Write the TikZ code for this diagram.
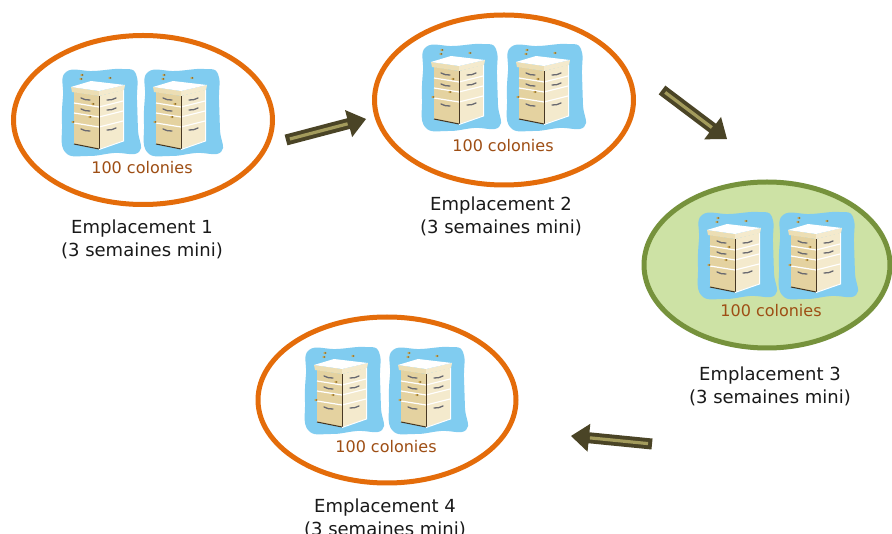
\documentclass[tikz,border=0pt]{standalone}
\usepackage{fontspec}
\setmainfont{DejaVu Sans}
\usetikzlibrary{shapes.geometric,calc}
\definecolor{orng}{RGB}{228,108,10}
\definecolor{grnline}{RGB}{118,146,60}
\definecolor{grnfill}{RGB}{205,226,165}
\definecolor{blobc}{RGB}{128,204,240}
\definecolor{hfront}{RGB}{228,210,160}
\definecolor{hright}{RGB}{244,234,205}
\definecolor{lidf}{RGB}{236,222,180}
\definecolor{hdark}{RGB}{70,55,35}
\definecolor{handlec}{RGB}{105,105,112}
\definecolor{beec}{RGB}{200,160,70}
\definecolor{arrdark}{RGB}{74,68,38}
\definecolor{arrlight}{RGB}{163,155,92}
\definecolor{coltxt}{RGB}{158,78,20}
\definecolor{labtxt}{RGB}{25,25,25}
\newcommand\fatarrow[2]{%
  \coordinate (#1h) at ($(#2)!18pt!(#1)$);
  \fill[arrdark] ($(#1)!5.5pt!90:(#2)$) -- ($(#1h)!5.5pt!-90:(#1)$) -- ($(#1h)!14pt!-90:(#1)$) -- (#2)
     -- ($(#1h)!14pt!90:(#1)$) -- ($(#1h)!5.5pt!90:(#1)$) -- ($(#1)!5.5pt!-90:(#2)$) -- cycle;
  \draw[arrlight, line width=3.2pt] ($(#1)!4pt!(#2)$) -- ($(#1h)!1pt!(#1)$);
}
\tikzset{
  site/.style={ellipse, draw=orng, line width=5pt, inner sep=0pt, fill=white},
  greensite/.style={ellipse, draw=grnline, line width=5pt, inner sep=0pt, fill=grnfill},
  coltext/.style={font=\fontsize{16}{19}\selectfont, text=coltxt, inner sep=0pt},
  labtext/.style={font=\fontsize{18}{23}\selectfont, text=labtxt, align=center, inner sep=0pt},
  hndl/.style={handlec, line width=1.3pt, line cap=round},
  hive/.pic={
    \fill[blobc] plot[smooth cycle,tension=0.75] coordinates {(-34,-40) (-6,-41) (22,-43) (36,-38) (37,-12) (38,18) (39,40) (14,41) (-12,44) (-35,40) (-38,12) (-37,-16)};
    \fill[hfront] (-26,-20) -- (-1,-16) -- (-1,37) -- (-26,32) -- cycle;
    \fill[hright] (-1,-16) -- (23,-22) -- (23,29) -- (-1,37) -- cycle;
    \draw[white, line width=1.2pt] (-26,-9) -- (-1,-5) -- (23,-11) (-26,1) -- (-1,5) -- (23,-1) (-26,11) -- (-1,15) -- (23,9);
    \draw[hdark, line width=1pt] (-26,32) -- (-1,37);
    \draw[hdark, line width=0.8pt] (-1,-16) -- (-1,37);
    \draw[white, line width=1pt] (-1,37.5) -- (23.5,29) -- (23.5,-22);
    \fill[lidf] (-29,-25) -- (-1,-21) -- (-1,-16) -- (-28,-20) -- cycle;
    \fill[hright] (-1,-21) -- (25,-27) -- (24,-22) -- (-1,-16) -- cycle;
    \fill[white] (-29,-25) -- (-9,-31) -- (25,-27) -- (-1,-21) -- cycle;
    \draw[hndl] (-19,-14) to[bend right=15] (-10,-12);
    \draw[hndl] (-19,-3) to[bend right=15] (-10,-1);
    \draw[hndl] (-19,17) to[bend right=15] (-10,19);
    \draw[hndl] (7,-12) to[bend right=15] (16,-14);
    \draw[hndl] (7,-2) to[bend right=15] (16,-4);
    \draw[hndl] (7,18) to[bend right=15] (16,16);
    \foreach \bx/\by in {-18/-37,-19/-33,10/-34,-27/10,-7/-8,-10/5}{
      \fill[beec] (\bx,\by) ellipse (1.8 and 1.2);
      \fill[hdark] (\bx+0.6,\by) circle (0.6);
    }
  }
}
\begin{document}
\begin{tikzpicture}[x=1pt,y=-1pt]
\useasboundingbox (0,0) rectangle (892,534);
\fill[white] (0,0) rectangle (892,534);
% sites
\node[site, minimum width=259pt, minimum height=169pt] (e1) at (143,120) {};
\node[site, minimum width=259pt, minimum height=170pt] (e2) at (504,100) {};
\node[greensite, minimum width=246pt, minimum height=166pt] (e3) at (767,265) {};
\node[site, minimum width=258pt, minimum height=166pt] (e4) at (387,400) {};
% hives
\pic at (100,112) {hive};
\pic at (182,112) {hive};
\pic at (460,87) {hive};
\pic at (545,87) {hive};
\pic at (736,255) {hive};
\pic at (817,255) {hive};
\pic at (343,390) {hive};
\pic at (427,390) {hive};
% colony texts
\node[coltext] (c1) at (142,168) {100 colonies};
\node[coltext] (c2) at (503,146) {100 colonies};
\node[coltext] (c3) at (771,311) {100 colonies};
\node[coltext] (c4) at (386,447) {100 colonies};
% labels
\node[labtext] (l1) at (142,239.5) {Emplacement 1\\(3 semaines mini)};
\node[labtext] (l2) at (501,216.5) {Emplacement 2\\(3 semaines mini)};
\node[labtext] (l3) at (770,386) {Emplacement 3\\(3 semaines mini)};
\node[labtext] (l4) at (385,518) {Emplacement 4\\(3 semaines mini)};
% arrows
\coordinate (a1) at (286,140); \coordinate (b1) at (366,119);
\coordinate (a2) at (662,90);  \coordinate (b2) at (727,139);
\coordinate (a3) at (652,444); \coordinate (b3) at (571,436);
\fatarrow{a1}{b1}
\fatarrow{a2}{b2}
\fatarrow{a3}{b3}
\end{tikzpicture}
\end{document}
